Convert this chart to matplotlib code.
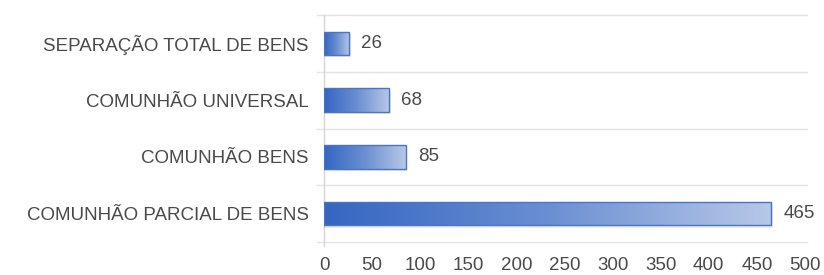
import numpy as np
import matplotlib.pyplot as plt
from matplotlib.colors import LinearSegmentedColormap
from matplotlib.patches import Rectangle

plt.rcParams['font.family'] = ['Liberation Sans', 'DejaVu Sans']

# ---------- Data (top to bottom) ----------
categories = ['SEPARAÇÃO TOTAL DE BENS', 'COMUNHÃO UNIVERSAL',
              'COMUNHÃO BENS', 'COMUNHÃO PARCIAL DE BENS']
values = [26, 68, 85, 465]
xticks = list(range(0, 501, 50))

W, H = 824, 275
fig = plt.figure(figsize=(W / 100, H / 100), dpi=100)
ax = fig.add_axes([324 / W, 1 - 242 / H, (805 - 324) / W, (242 - 15) / H])

n = len(categories)
ax.set_xlim(0, 500)
ax.set_ylim(n - 0.5, -0.5)

grad = LinearSegmentedColormap.from_list('g', ['#3566c2', '#6a8fd2', '#b7c8e8'])
bar_h = 0.41
px = 500 / (805 - 324)   # data units per pixel in x

for i, v in enumerate(values):
    y0 = i - bar_h / 2
    # faint shadow
    ax.add_patch(Rectangle((0, y0 + 0.04), v + 1.5 * px, bar_h, facecolor='#000000',
                           alpha=0.08, edgecolor='none', zorder=2))
    img = ax.imshow(np.linspace(0, 1, 256).reshape(1, -1), cmap=grad, aspect='auto',
                    extent=(0, v, y0 + bar_h, y0), zorder=3)
    rect = Rectangle((0, y0), v, bar_h, facecolor='none', edgecolor='#4a74c4',
                     linewidth=1.0, zorder=4)
    ax.add_patch(rect)
    img.set_clip_path(rect)
    ax.text(v + 12 * px, i, str(v), va='center', ha='left', fontsize=13.5,
            color='#4a4a4a')

# category separators
for y in np.arange(-0.5, n + 0.5, 1.0):
    ax.plot([-7 * px, 502 * 1.0], [y, y], color='#e3e3e3', lw=1.0,
            clip_on=False, zorder=1)
ax.plot([0, 0], [-0.5, n - 0.5 + 0.07], color='#d5d5d5', lw=1.0,
        clip_on=False, zorder=1)

ax.set_yticks(range(n))
ax.set_yticklabels(categories)
ax.set_xticks(xticks)
ax.tick_params(axis='both', length=0, labelcolor='#4a4a4a')
ax.tick_params(axis='y', pad=11, labelsize=13.5)
ax.tick_params(axis='x', pad=11, labelsize=13.5)
for s in ax.spines.values():
    s.set_visible(False)

fig.savefig('out.png', dpi=100)
